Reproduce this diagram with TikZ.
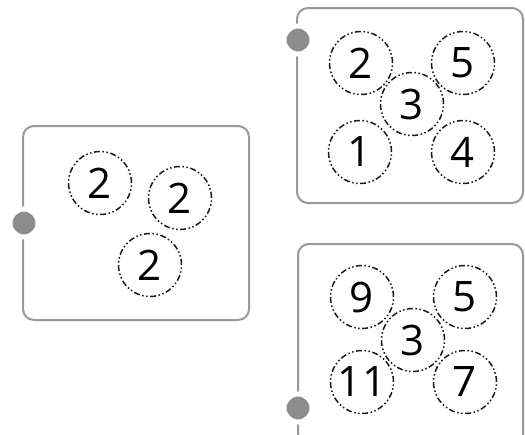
\documentclass[tikz,border=0pt]{standalone}
\usepackage{fontspec}
\setmainfont{Open Sans}
\begin{document}
\begin{tikzpicture}[x=1pt,y=-1pt,
  panel/.style={draw=black!40, line width=2pt, rounded corners=11pt},
  knob/.style={circle, fill=black!45, draw=white, line width=5pt, minimum size=28pt, inner sep=0pt},
  num/.style={circle, draw=black!90, line width=1.5pt, minimum size=63pt, inner sep=0pt,
    dash pattern=on 6pt off 2.5pt on 1.5pt off 2.5pt on 1.5pt off 2.5pt, font=\fontsize{42}{42}\selectfont},
  ]
\useasboundingbox (0,0) rectangle (525,434);
\clip (0,0) rectangle (525,434);
% left panel
\draw[panel] (23,126) rectangle (249,320);
\node[knob] (k1) at (24,223) {};
\node[num] (a1) at (100,183) {2};
\node[num] (a2) at (180,198) {2};
\node[num] (a3) at (150,265) {2};
% top right panel
\draw[panel] (297,8) rectangle (523,203);
\node[knob] (k2) at (298,40) {};
\node[num] (b2) at (361,63) {2};
\node[num] (b5) at (463,63) {5};
\node[num] (b3) at (412,104) {3};
\node[num] (b1) at (360,152) {1};
\node[num] (b4) at (463,152) {4};
% bottom right panel
\draw[panel] (298,244) rectangle (523,460);
\node[knob] (k3) at (298,408) {};
\node[num] (c9) at (362,297) {9};
\node[num] (c5) at (465,297) {5};
\node[num] (c3) at (413,340) {3};
\node[num] (c11) at (362,382) {11};
\node[num] (c7) at (465,382) {7};
\end{tikzpicture}
\end{document}
